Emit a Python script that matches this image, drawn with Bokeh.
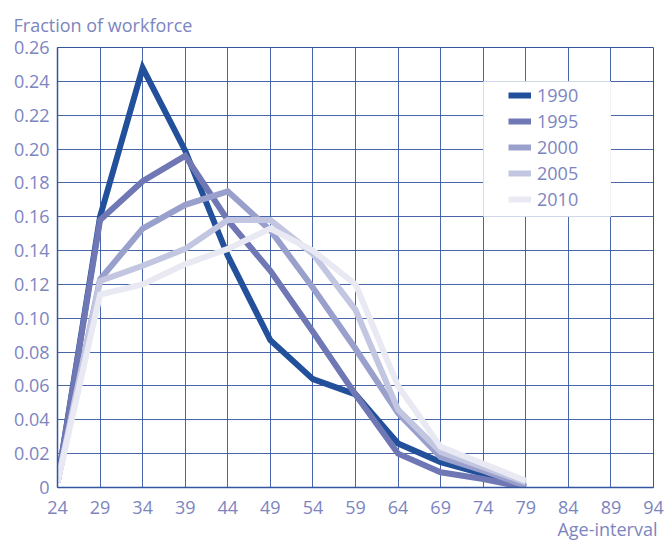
from bokeh.plotting import figure
from bokeh.models import FixedTicker, Legend, LegendItem, Title, NumeralTickFormatter
from bokeh.embed import file_html
from bokeh.resources import INLINE

# ---- data ----
ages = [24, 29, 34, 39, 44, 49, 54, 59, 64, 69, 74, 79]
y1990 = [0.003, 0.160, 0.248, 0.199, 0.137, 0.087, 0.064, 0.055, 0.026, 0.015, 0.008, 0.000]
y1995 = [0.003, 0.158, 0.181, 0.196, 0.158, 0.128, 0.092, 0.055, 0.020, 0.009, 0.005, 0.000]
y2000 = [0.003, 0.123, 0.153, 0.167, 0.175, 0.152, 0.118, 0.082, 0.044, 0.018, 0.010, 0.001]
y2005 = [0.003, 0.122, 0.131, 0.141, 0.158, 0.158, 0.138, 0.105, 0.046, 0.021, 0.012, 0.003]
y2010 = [0.003, 0.114, 0.120, 0.132, 0.141, 0.153, 0.140, 0.120, 0.060, 0.024, 0.014, 0.004]
series_names = ["1990", "1995", "2000", "2005", "2010"]
series_values = [y1990, y1995, y2000, y2005, y2010]
series_colors = ["#22509a", "#6f78b4", "#9aa0cc", "#c3c6e0", "#e9e9f3"]
x_ticks = [24, 29, 34, 39, 44, 49, 54, 59, 64, 69, 74, 79, 84, 89, 94]
y_ticks = [0, 0.02, 0.04, 0.06, 0.08, 0.10, 0.12, 0.14, 0.16, 0.18, 0.20, 0.22, 0.24, 0.26]

TEXT = "#7d85bf"
GRID = "#35559f"
FONT = "Open Sans"

p = figure(width=664, height=542, x_range=(24, 94), y_range=(0, 0.26),
           output_backend="svg", toolbar_location=None,
           min_border_left=57, min_border_right=11, min_border_top=47, min_border_bottom=55)
p.title.visible = False
p.background_fill_color = "white"
p.border_fill_color = "white"
p.outline_line_color = GRID
p.outline_line_width = 1

p.xaxis.ticker = FixedTicker(ticks=x_ticks)
p.yaxis.ticker = FixedTicker(ticks=y_ticks)
p.yaxis.formatter = NumeralTickFormatter(format="0.00")
p.yaxis.major_label_overrides = {0: "0"}
for ax in (p.xaxis[0], p.yaxis[0]):
    ax.major_tick_in = 0
    ax.major_tick_out = 0
    ax.minor_tick_in = 0
    ax.minor_tick_out = 0
    ax.axis_line_color = GRID
    ax.axis_line_width = 1.5
    ax.major_label_text_color = TEXT
    ax.major_label_text_font = FONT
    ax.major_label_text_font_size = "18px"
p.yaxis.major_label_standoff = 8
p.xaxis.major_label_standoff = 13

p.grid.grid_line_color = GRID
p.grid.grid_line_width = 1
p.grid.grid_line_alpha = 0.9

# white legend panel covering the grid
p.quad(left=74, right=89, bottom=0.16, top=0.24, fill_color="white", line_color=None)

items = []
for name, vals, col in zip(series_names, series_values, series_colors):
    r = p.line(ages, vals, line_color=col, line_width=6, line_join="miter")
    items.append(LegendItem(label=name, renderers=[r]))

legend = Legend(items=items, location=(451, 276), padding=5, spacing=2,
                glyph_width=23, glyph_height=20, label_height=20, label_standoff=6,
                label_text_font=FONT, label_text_font_size="18px", label_text_color=TEXT,
                background_fill_alpha=0, border_line_color=None)
p.add_layout(legend, "center")

top_title = Title(text="Fraction of workforce", align="left", offset=-44, standoff=21,
                  text_color=TEXT, text_font=FONT, text_font_size="18px",
                  text_font_style="normal")
p.add_layout(top_title, "above")
bottom_title = Title(text="Age-interval", align="right", offset=-4, standoff=-3,
                     text_color=TEXT, text_font=FONT, text_font_size="18px",
                     text_font_style="normal")
p.add_layout(bottom_title, "below")

open("out.html", "w").write(file_html(p, INLINE))
